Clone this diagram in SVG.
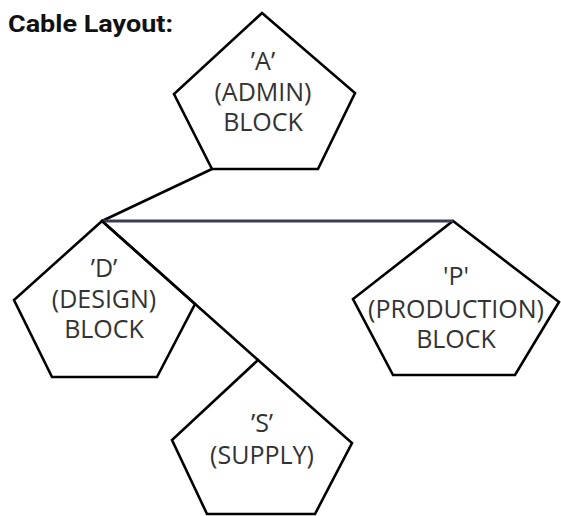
<svg xmlns="http://www.w3.org/2000/svg" width="561" height="516" viewBox="0 0 561 516">
  <style>
    .block { fill: #ffffff; stroke: #000000; stroke-width: 2.6; stroke-linejoin: miter; }
    .label { font-family: "Open Sans", "Liberation Sans", sans-serif; font-size: 25px; fill: #333333; text-anchor: middle; }
    .cable { fill: none; stroke: #000000; stroke-width: 2.6; stroke-linecap: round; }
    .trunk { fill: none; stroke: #3c3c52; stroke-width: 3; }
    .title { font-family: "Roboto", "Liberation Sans", sans-serif; font-weight: 700; font-size: 24px; fill: #111111; }
  </style>

  <rect width="561" height="516" fill="#ffffff"/>

  <text class="title" x="8" y="32" textLength="165" lengthAdjust="spacingAndGlyphs">Cable Layout:</text>

  <!-- block A -->
  <g id="block-admin">
    <polygon class="block" points="262,13 355,93 318,169 212,169 174,94"/>
    <text class="label"><tspan x="263" y="70">’A’</tspan><tspan x="263" y="101">(ADMIN)</tspan><tspan x="263" y="131">BLOCK</tspan></text>
  </g>

  <!-- block D -->
  <g id="block-design">
    <polygon class="block" points="102,221 195,304 157,377 52,377 14,300"/>
    <text class="label"><tspan x="104" y="277">’D’</tspan><tspan x="104" y="308">(DESIGN)</tspan><tspan x="104" y="338">BLOCK</tspan></text>
  </g>

  <!-- block P -->
  <g id="block-production">
    <polygon class="block" points="453,221 559,302 515,375 393,375 353,299"/>
    <text class="label"><tspan x="456" y="285">'P'</tspan><tspan x="456" y="318">(PRODUCTION)</tspan><tspan x="456" y="348">BLOCK</tspan></text>
  </g>

  <!-- block S -->
  <g id="block-supply">
    <polygon class="block" points="258,360 352,443 315,514 207,514 172,440"/>
    <text class="label"><tspan x="262" y="432">’S’</tspan><tspan x="262" y="464">(SUPPLY)</tspan></text>
  </g>

  <!-- cable runs -->
  <g id="connectors">
    <line class="cable" x1="212" y1="169" x2="102" y2="221"/>
    <line class="trunk" x1="102" y1="221" x2="453" y2="221"/>
    <line class="cable" x1="102" y1="221" x2="258" y2="360"/>
  </g>
</svg>
